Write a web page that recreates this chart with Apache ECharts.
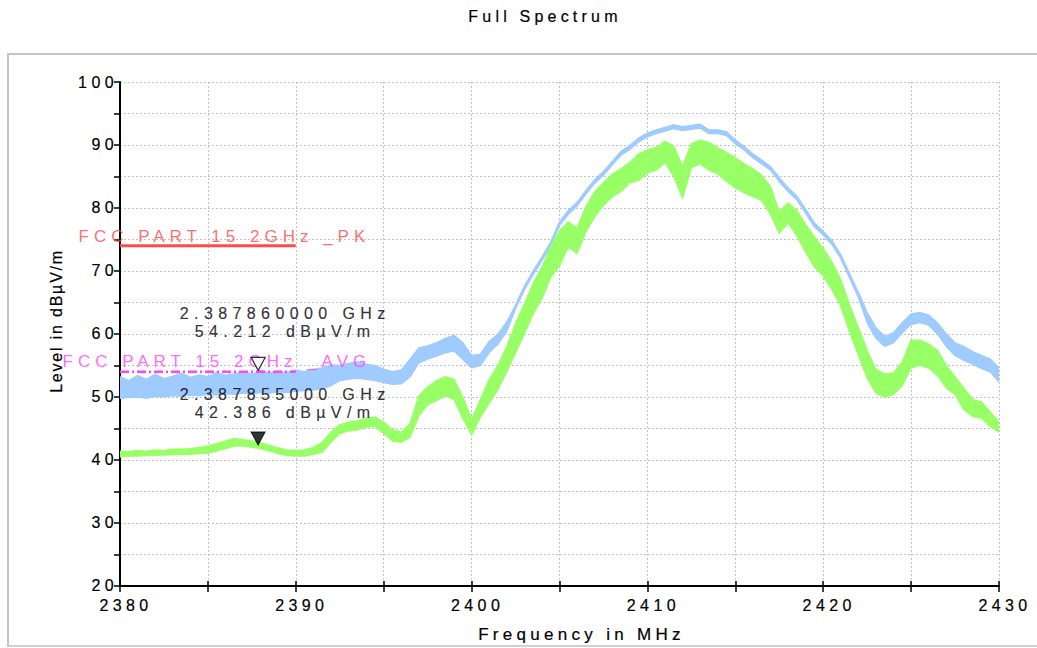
<!DOCTYPE html>
<html>
<head>
<meta charset="utf-8">
<script src="https://cdn.jsdelivr.net/npm/echarts@6/dist/echarts.min.js"></script>
<style>
html,body{margin:0;padding:0;background:#fff;overflow:hidden;}
#wrap{position:relative;width:1037px;height:648px;overflow:hidden;}
#c{position:absolute;left:0;top:0;width:1037px;height:648px;}
#frame{position:absolute;left:7px;top:53px;width:1100px;height:590px;border-top:2px solid #c4c4c4;border-left:2px solid #c4c4c4;border-bottom:2px solid #d0d0d0;pointer-events:none;}
text[fill="#000001"]{letter-spacing:4.4px;}
text[fill="#000002"]{letter-spacing:4.3px;}
text[fill="#000003"]{letter-spacing:1.8px;}
text[fill="#000004"]{letter-spacing:4.2px;}
text[fill="#000005"]{letter-spacing:5.4px;}
text[fill="#ff4a4a"]{letter-spacing:5px;}
text[fill="#ff44ff"]{letter-spacing:5px;}
</style>
</head>
<body>
<div id="wrap"><div id="c"></div><div id="frame"></div></div>
<script>
// ---- data ----
const freqs = [
2380,2380.5,2381,2381.5,2382,2382.5,2383,2383.5,2384,2384.5,
2385,2385.5,2386,2386.5,2387,2387.5,2388,2388.5,2389,2389.5,
2390,2390.5,2391,2391.5,2392,2392.5,2393,2393.5,2394,2394.5,
2395,2395.5,2396,2396.5,2397,2397.5,2398,2398.5,2399,2399.5,
2400,2400.5,2401,2401.5,2402,2402.5,2403,2403.5,2404,2404.5,
2405,2405.5,2406,2406.5,2407,2407.5,2408,2408.5,2409,2409.5,
2410,2410.5,2411,2411.5,2412,2412.5,2413,2413.5,2414,2414.5,
2415,2415.5,2416,2416.5,2417,2417.5,2418,2418.5,2419,2419.5,
2420,2420.5,2421,2421.5,2422,2422.5,2423,2423.5,2424,2424.5,
2425,2425.5,2426,2426.5,2427,2427.5,2428,2428.5,2429,2429.5,
2430];

// Peak trace (blue) envelope
const peakHi = [
53.2,52.6,53.4,52.8,53.6,52.9,53.3,53.8,53.1,53.5,
53.2,53.9,53.4,53.7,54.0,53.6,54.2,53.8,54.1,53.9,
54.3,54.0,54.4,54.6,55.1,55.0,55.3,55.6,55.2,55.0,
54.4,54.0,54.3,56.0,57.8,58.1,58.6,59.3,59.8,58.6,
56.6,56.8,58.8,60.0,61.9,64.6,67.6,70.0,72.2,74.6,
77.8,79.6,80.9,82.8,84.5,85.8,87.4,89.0,89.9,91.1,
91.9,92.4,92.8,93.2,92.9,93.1,93.3,92.4,92.4,92.1,
90.8,89.8,88.6,87.6,86.6,84.8,83.2,81.9,79.8,77.6,
76.3,74.8,72.6,69.6,66.6,63.4,61.0,59.6,60.2,61.8,
63.2,63.4,63.0,61.8,60.0,58.6,58.0,57.2,56.6,56.0,
54.6];
const peakLo = [
49.8,49.9,50.0,49.8,50.1,50.0,50.2,50.1,50.3,50.2,
50.4,50.3,50.5,50.4,50.6,50.5,50.7,50.6,50.8,50.7,
50.9,51.0,51.1,51.3,51.8,52.6,52.8,53.0,52.8,52.6,
52.3,52.0,52.1,53.2,55.4,56.0,56.5,57.0,57.3,56.0,
54.6,55.0,57.0,58.4,60.4,64.0,67.0,69.4,71.6,74.0,
77.2,79.0,80.3,82.2,83.9,85.2,86.8,88.4,89.3,90.5,
91.3,91.8,92.2,92.6,92.3,92.5,92.7,91.8,91.8,91.5,
90.2,89.2,88.0,87.0,86.0,84.2,82.6,81.3,79.2,77.0,
75.7,74.2,72.0,68.9,65.8,61.8,59.3,58.0,58.6,60.2,
61.5,61.8,61.4,60.0,58.0,56.6,55.8,55.2,54.5,54.0,
52.4];

// Average trace (green) envelope
const avgHi = [
41.4,41.3,41.5,41.4,41.6,41.5,41.7,41.7,41.8,42.0,
42.2,42.6,43.0,43.4,43.2,43.0,42.7,42.3,41.9,41.6,
41.5,41.6,42.0,42.8,44.4,45.6,46.0,46.2,46.6,46.8,
46.0,44.8,44.4,45.8,50.2,51.6,52.6,53.2,52.8,50.0,
46.4,49.6,52.8,55.0,58.0,61.6,64.8,68.0,70.6,73.8,
76.4,77.8,76.8,80.2,82.6,84.0,85.4,86.2,87.2,88.6,
89.2,89.6,90.6,89.8,86.6,90.2,90.8,90.4,89.6,88.8,
88.0,87.0,86.2,85.2,83.4,79.4,80.8,79.6,77.4,75.4,
73.6,71.4,68.6,64.6,61.0,57.4,54.4,53.6,53.8,55.6,
59.0,59.0,58.4,57.4,55.0,53.2,51.4,49.6,49.2,47.6,
46.0];
const avgLo = [
40.5,40.6,40.6,40.7,40.7,40.8,40.8,40.9,40.9,41.0,
41.1,41.4,41.8,42.2,42.2,42.0,41.8,41.4,41.0,40.7,
40.6,40.6,40.9,41.2,42.8,44.2,44.6,44.8,45.2,45.3,
44.2,43.0,42.8,43.6,47.0,48.8,49.4,50.2,49.6,46.6,
44.0,46.8,49.0,51.2,54.0,57.0,60.0,63.2,65.6,69.0,
70.8,73.8,72.8,76.2,78.6,80.4,81.8,82.6,84.0,84.4,
85.6,86.0,87.2,85.0,81.6,86.4,87.0,86.0,85.4,84.2,
83.2,82.4,81.8,81.2,79.0,76.0,77.6,75.6,73.0,70.6,
69.2,67.0,64.4,60.4,56.6,53.0,50.6,50.0,50.4,51.8,
54.6,55.0,54.6,53.4,51.4,50.4,48.0,46.9,46.6,45.3,
44.4];

// Limit lines
const limitNames = ['FCC PART 15 2GHz _PK', 'FCC PART 15 2GHz _AVG'];
const limitLevels = [74, 54];
const limitStart = [2380, 2380];
const limitEnd = [2390, 2390];

// Markers
const markerFreqMHz = [2387.86, 2387.855];
const markerFreqText = ['2.387860000 GHz', '2.387855000 GHz'];
const markerLevel = [54.212, 42.386];

// Axis ticks
const xMin = 2380, xMax = 2430, xStep = 5, xLabelStep = 10;
const yMin = 20, yMax = 100, yStep = 5, yLabelStep = 10;

// ---- chart ----
const chart = echarts.init(document.getElementById('c'), null, {renderer: 'svg'});

const FONT = 'Liberation Sans, Arial, sans-serif';

function band(name, lo, hi, color, z) {
  return {
    type: 'custom', name: name, coordinateSystem: 'cartesian2d',
    xAxisIndex: 0, yAxisIndex: 0, clip: true, silent: true, z: z,
    data: freqs.map((f, i) => [f, lo[i], hi[i]]),
    encode: {x: 0, y: [1, 2]},
    renderItem: function (params, api) {
      if (params.dataIndex !== 0) return null;
      const top = [], bot = [];
      for (let i = 0; i < freqs.length; i++) {
        top.push(api.coord([freqs[i], hi[i]]));
        bot.push(api.coord([freqs[i], lo[i]]));
      }
      return {
        type: 'polygon',
        shape: {points: top.concat(bot.reverse())},
        style: {fill: color, stroke: color, lineWidth: 1.4, lineJoin: 'miter'}
      };
    }
  };
}

function dark(c) { return {textBorderColor: c, textBorderWidth: 0.2}; }

const axisLbl = Object.assign({color: '#000001', fontFamily: FONT, fontSize: 16}, dark('#000001'));

const option = {
  animation: false,
  backgroundColor: 'transparent',
  title: {
    text: 'Full Spectrum', left: 545, top: 8, padding: 0, textAlign: 'center',
    textStyle: Object.assign({color: '#000004', fontFamily: FONT, fontSize: 16, fontWeight: 'normal'}, dark('#000004'))
  },
  grid: {left: 120, right: 38, top: 82, bottom: 61, containLabel: false},
  xAxis: [{
    type: 'value', min: xMin, max: xMax, interval: xStep,
    name: 'Frequency in MHz', nameLocation: 'middle', nameGap: 40,
    nameTextStyle: Object.assign({color: '#000002', fontFamily: FONT, fontSize: 17, padding: [0, 0, 0, 44]}, dark('#000002')),
    axisLine: {show: true, onZero: false, lineStyle: {color: '#000', width: 2}},
    axisTick: {show: true, inside: false, length: 6, lineStyle: {color: '#000', width: 1.5}},
    axisLabel: Object.assign({}, axisLbl, {margin: 12, padding: [0, 0, 0, 12],
      formatter: v => (Math.round(v) % xLabelStep === 0 ? String(v) : '')}),
    splitLine: {show: true, lineStyle: {color: '#c2c2c2', width: 1, type: [2, 2]}}
  }, {
    type: 'value', min: xMin, max: xMax, interval: xStep, position: 'top', offset: -505,
    axisLine: {show: false}, axisLabel: {show: false}, splitLine: {show: false},
    axisTick: {show: true, inside: false, length: 6, lineStyle: {color: '#000', width: 1.5}}
  }],
  yAxis: [{
    type: 'value', min: yMin, max: yMax, interval: yStep,
    name: 'Level in dBµV/m', nameLocation: 'middle', nameGap: 56, nameRotate: 90,
    nameTextStyle: Object.assign({color: '#000003', fontFamily: FONT, fontSize: 16, padding: [0, 0, 0, 26]}, dark('#000003')),
    axisLine: {show: true, onZero: false, lineStyle: {color: '#000', width: 2}},
    axisTick: {show: true, inside: false, length: 6, lineStyle: {color: '#000', width: 1.5}},
    axisLabel: Object.assign({}, axisLbl, {margin: 2,
      formatter: v => (Math.round(v) % yLabelStep === 0 ? String(v) : '')}),
    splitLine: {show: true, lineStyle: {color: '#c2c2c2', width: 1, type: [2, 2]}}
  }],
  series: [
    band('Peak', peakLo, peakHi, '#9fcbff', 2),
    band('Average', avgLo, avgHi, '#99ff66', 3),
    {
      type: 'line', name: limitNames[0], xAxisIndex: 0, yAxisIndex: 0, z: 4, silent: true,
      symbol: 'none', data: [[limitStart[0], limitLevels[0]], [limitEnd[0], limitLevels[0]]],
      lineStyle: {color: '#ff4a4a', width: 3}
    },
    {
      type: 'line', name: limitNames[1], xAxisIndex: 0, yAxisIndex: 0, z: 4, silent: true,
      symbol: 'none', data: [[limitStart[1], limitLevels[1]], [limitEnd[1], limitLevels[1]]],
      lineStyle: {color: '#ff44ff', width: 2.5, type: [9, 3, 2, 3]}
    },
    {
      type: 'scatter', name: 'limitLabels', xAxisIndex: 0, yAxisIndex: 0, z: 6, silent: true,
      symbol: 'rect', symbolSize: 1, itemStyle: {color: 'rgba(0,0,0,0)'},
      data: [
        {value: [limitStart[0], limitLevels[0]], label: {show: true, position: 'right', distance: 0,
          offset: [-42, -9], formatter: limitNames[0], color: '#ff4a4a', fontFamily: FONT, fontSize: 17}},
        {value: [limitStart[1], limitLevels[1]], label: {show: true, position: 'right', distance: 0,
          offset: [-58, -10], formatter: limitNames[1], color: '#ff44ff', fontFamily: FONT, fontSize: 17}}
      ]
    },
    {
      type: 'scatter', name: 'markerPk', xAxisIndex: 0, yAxisIndex: 0, z: 7, silent: true,
      symbol: 'path://M0,0L12,0L6,11Z', symbolSize: [14, 13], symbolOffset: [0, -6.5],
      itemStyle: {color: '#fff', borderColor: '#000', borderWidth: 1.3},
      data: [[markerFreqMHz[0], markerLevel[0]]],
      label: Object.assign({show: true, position: 'inside', offset: [27, -41], align: 'center', verticalAlign: 'middle',
        lineHeight: 18, color: '#000005', fontFamily: FONT, fontSize: 16,
        formatter: () => markerFreqText[0] + '\n' + markerLevel[0].toFixed(3) + ' dBµV/m'}, dark('#000005'))
    },
    {
      type: 'scatter', name: 'markerAvg', xAxisIndex: 0, yAxisIndex: 0, z: 7, silent: true,
      symbol: 'path://M0,0L12,0L6,11Z', symbolSize: [14, 13], symbolOffset: [0, -6.5],
      itemStyle: {color: '#000', borderColor: '#000', borderWidth: 1},
      data: [[markerFreqMHz[1], markerLevel[1]]],
      label: Object.assign({show: true, position: 'inside', offset: [27, -35], align: 'center', verticalAlign: 'middle',
        lineHeight: 18, color: '#000005', fontFamily: FONT, fontSize: 16,
        formatter: () => markerFreqText[1] + '\n' + markerLevel[1].toFixed(3) + ' dBµV/m'}, dark('#000005'))
    }
  ]
};
chart.setOption(option);
</script>
</body>
</html>
